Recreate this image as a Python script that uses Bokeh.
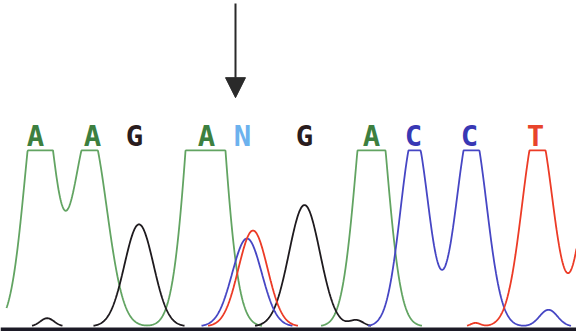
import numpy as np
from bokeh.plotting import figure
from bokeh.models import Range1d, Arrow, NormalHead, Span, ColumnDataSource
from bokeh.core.properties import value
from bokeh.embed import file_html
from bokeh.resources import INLINE

# ---- data (scan position, signal; 1000 = detector saturation) ----
base_calls = ["A", "A", "G", "A", "N", "G", "A", "C", "C", "T"]
call_pos = [35, 92, 134, 206, 242, 304, 371, 413, 469, 535]

# peak tables per channel: centre (scan), height (signal), width (sigma, scans)
a_centre = [39, 89.5, 205, 371]
a_height = [1400, 1120, 2180, 1580]
a_sigma = [14.5, 16.6, 16, 14.7]

g_centre = [46.7, 138.5, 304, 356]
g_height = [47, 580, 690, 35]
g_sigma = [7, 14.5, 15.5, 7]

c_centre = [246.5, 414, 471, 548]
c_height = [500, 1100, 1150, 95]
c_sigma = [14.8, 13.9, 15, 9]

t_centre = [252.5, 475, 537, 595]
t_height = [545, 20, 1150, 1000]
t_sigma = [14.5, 5, 15.3, 14]

saturation = 1000
scan_start, scan_end = 6, 576
mutation_pos = 235

trace_colors = {"A": "#62a462", "G": "#1e1a1e", "C": "#4646c4", "T": "#ec3b26"}
letter_colors = {"A": "#3d7f40", "G": "#2a1c1e", "C": "#3838b4", "T": "#e8442c", "N": "#6cb2ee"}

scans = np.arange(scan_start, scan_end + 0.01, 0.5)


def trace(centres, heights, sigmas):
    y = np.zeros_like(scans)
    for c, h, s in zip(centres, heights, sigmas):
        y += h * np.exp(-((scans - c) ** 2) / (2 * s * s))
    y = np.minimum(y, saturation)
    y[y < 4] = np.nan          # signal at baseline hides in the baseline bar
    return y


p = figure(width=576, height=331, output_backend="svg", toolbar_location=None,
           x_range=Range1d(0, 576), y_range=Range1d(-28.4, 1852),
           min_border=0, outline_line_color=None, background_fill_color="white")
p.axis.visible = False
p.grid.visible = False

for ch, (cs, hs, ss) in [("A", (a_centre, a_height, a_sigma)),
                         ("G", (g_centre, g_height, g_sigma)),
                         ("C", (c_centre, c_height, c_sigma)),
                         ("T", (t_centre, t_height, t_sigma))]:
    p.line(scans, trace(cs, hs, ss), line_color=trace_colors[ch], line_width=1.8)

p.add_layout(Span(location=-17, dimension="width", line_color="#1c1a26", line_width=4))

src = ColumnDataSource(dict(x=call_pos, text=base_calls,
                            color=[letter_colors[b] for b in base_calls]))
p.text(x="x", y=1083, text="text", source=src, text_color="color",
       text_font=value("DejaVu Sans Mono"), text_font_style="bold",
       text_font_size="29px", text_align="center", text_baseline="alphabetic")

p.add_layout(Arrow(end=NormalHead(size=20, fill_color="#2a2a2a", line_color="#2a2a2a"),
                   x_start=mutation_pos, y_start=1835, x_end=mutation_pos, y_end=1300,
                   line_color="#2a2a2a", line_width=2))

open("out.html", "w").write(file_html(p, INLINE))
